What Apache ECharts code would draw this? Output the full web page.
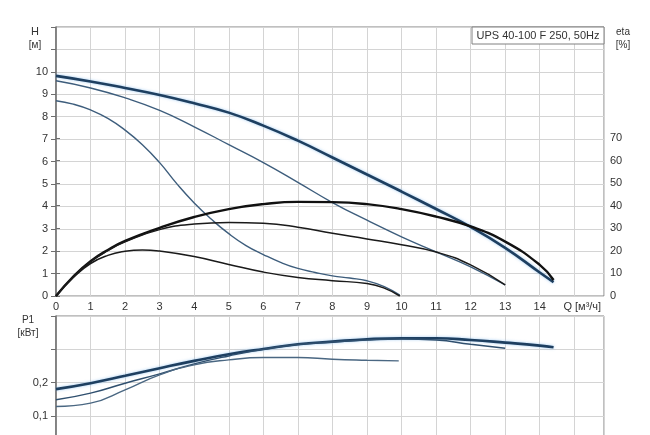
<!DOCTYPE html>
<html><head><meta charset="utf-8">
<script src="https://cdn.jsdelivr.net/npm/echarts@6/dist/echarts.min.js"></script>
<style>html,body{margin:0;padding:0;background:#fff}#c{width:650px;height:435px}</style>
</head><body><div id="c"></div>
<script>
// ---- data ----
const qA = [0,1,2,3,4,5,6,7,8,9,10,11,12,13,14,14.4];
const hA = [9.82,9.57,9.28,8.97,8.6,8.18,7.6,6.93,6.18,5.42,4.66,3.88,3.08,2.15,1.05,0.62];
const qB = [0,1,2,3,4,5,6,7,8,9,10,11,12,13];
const hB = [9.6,9.28,8.84,8.28,7.55,6.75,5.95,5.07,4.17,3.38,2.64,1.97,1.3,0.49];
const qC = [0,0.5,1,1.5,2,2.5,3,3.5,4,4.5,5,5.5,6,6.5,7,7.5,8,8.5,9,9.5,9.95];
const hC = [8.71,8.56,8.3,7.92,7.4,6.75,5.95,5.0,4.15,3.42,2.78,2.25,1.85,1.5,1.23,1.05,0.9,0.8,0.68,0.42,0.04];

const qEtaA = [0,0.5,1,1.5,2,3,4,5,6,7,8,9,10,11,12,13,14,14.4];
const etaA = [0,8.6,15.4,20.4,24.4,30.2,35,38.5,40.7,41.7,41.6,40.7,38.5,35.2,30.8,24.1,13.8,7.1];
const qEtaB = [0,0.5,1,1.5,2,3,4,5,6,7,8,9,10,11,12,13];
const etaB = [0,8.5,15.2,20.1,24,29.4,31.9,32.6,32.2,30.5,27.8,25.3,22.7,19.5,13.8,4.9];
const qEtaC = [0,0.5,1,1.5,2,2.5,3,4,5,6,7,8,9,9.5,9.95];
const etaC = [0,8.2,14.4,18,19.8,20.4,19.9,17.5,14,10.6,8.2,6.8,5.5,3.5,0];

const qPA = [0,1,2,3,4,5,6,7,8,9,10,11,12,13,14,14.4];
const pA = [0.18,0.198,0.22,0.243,0.265,0.285,0.301,0.315,0.323,0.33,0.333,0.333,0.328,0.32,0.311,0.306];
const qPB = [0,1,2,3,4,5,6,7,8,9,10,11,12,13];
const pB = [0.148,0.168,0.198,0.226,0.256,0.28,0.3,0.314,0.322,0.328,0.331,0.328,0.315,0.303];
const qPC = [0,1,2,3,4,5,6,7,8,9,9.92];
const pC = [0.128,0.138,0.178,0.223,0.253,0.268,0.275,0.275,0.27,0.267,0.265];

const xTickLabels = ['0','1','2','3','4','5','6','7','8','9','10','11','12','13','14','Q [м³/ч]'];
const hTickMax = 10;
const etaTickMax = 70;
const pTickLabels = {'0.1':'0,1','0.2':'0,2'};
const titleText = 'UPS 40-100 F 250, 50Hz';

// ---- chart ----
const zip = (q, v) => q.map((x, i) => [x, v[i]]);
const FONT = 'Liberation Sans, Arial, sans-serif';
const TXT = '#333';
const GRIDC = '#d4d4d4';
const FRAME = '#808080';
const L = 56, W = 548;
const XMAX = 15.86;

const chart = echarts.init(document.getElementById('c'), null, {renderer: 'canvas'});

function xAxisBase(gi, showLabels) {
  return {
    type: 'value', gridIndex: gi, min: 0, max: XMAX, interval: 1,
    axisLine: {show: false}, axisTick: {show: false},
    splitLine: {show: true, lineStyle: {color: GRIDC, width: 1}},
    axisLabel: {
      show: showLabels, color: TXT, fontFamily: FONT, fontSize: 11, margin: 5,
      showMaxLabel: false,
      formatter: v => {
        if (!Number.isInteger(v) || v >= xTickLabels.length) return '';
        return v === xTickLabels.length - 1 ? '{q|' + xTickLabels[v] + '}' : xTickLabels[v];
      },
      rich: {q: {color: TXT, fontFamily: FONT, fontSize: 11, padding: [0, 0, 0, 16]}}
    }
  };
}
function line(xi, yi, q, v, color, width, glow) {
  const ls = {color: color, width: width};
  if (glow) { ls.shadowColor = 'rgba(120,180,235,0.7)'; ls.shadowBlur = 3; }
  return {type: 'line', xAxisIndex: xi, yAxisIndex: yi, data: zip(q, v),
    smooth: 0.5, symbol: 'none', clip: false, lineStyle: ls};
}

const option = {
  animation: false,
  backgroundColor: '#fff',
  grid: [
    {left: L, top: 27, width: W, height: 269, show: true, borderColor: FRAME, borderWidth: 1, outerBoundsMode: 'none', containLabel: false},
    {left: L, top: 316, width: W, height: 133, show: true, borderColor: FRAME, borderWidth: 1, outerBoundsMode: 'none', containLabel: false},
    {left: L, top: 138, width: W, height: 158, show: false, outerBoundsMode: 'none', containLabel: false}
  ],
  xAxis: [
    xAxisBase(0, true),
    xAxisBase(1, false),
    Object.assign(xAxisBase(2, false), {splitLine: {show: false}})
  ],
  yAxis: [
    {
      type: 'value', gridIndex: 0, min: 0, max: 12, interval: 1,
      axisLine: {show: true, lineStyle: {color: '#6e6e6e', width: 1.5}},
      axisTick: {show: true, length: 5, lineStyle: {color: '#6e6e6e'}},
      splitLine: {show: true, lineStyle: {color: GRIDC, width: 1}},
      axisLabel: {color: TXT, fontFamily: FONT, fontSize: 11, margin: 8,
        formatter: v => v <= hTickMax ? String(v) : ''}
    },
    {
      type: 'value', gridIndex: 1, min: 0, max: 0.4, interval: 0.1,
      axisLine: {show: true, lineStyle: {color: '#6e6e6e', width: 1.5}},
      axisTick: {show: true, length: 5, lineStyle: {color: '#6e6e6e'}},
      splitLine: {show: true, lineStyle: {color: GRIDC, width: 1}},
      axisLabel: {color: TXT, fontFamily: FONT, fontSize: 11, margin: 8,
        formatter: v => pTickLabels[(Math.round(v * 10) / 10).toString()] || ''}
    },
    {
      type: 'value', gridIndex: 2, position: 'right', min: 0, max: etaTickMax, interval: 10,
      axisLine: {show: false},
      axisTick: {show: true, length: 4, inside: false, lineStyle: {color: '#6e6e6e'}},
      splitLine: {show: false},
      axisLabel: {color: TXT, fontFamily: FONT, fontSize: 11, margin: 6}
    }
  ],
  graphic: [
    {type: 'rect', shape: {x: 472, y: 27, width: 132, height: 17},
      style: {fill: '#fff', stroke: FRAME, lineWidth: 1}, z: 100},
    {type: 'text', x: 538, y: 36, z: 101,
      style: {text: titleText, fill: TXT, font: '11px ' + FONT, align: 'center', verticalAlign: 'middle'}},
    {type: 'text', x: 35, y: 32, style: {text: 'H', fill: TXT, font: '11px ' + FONT, align: 'center', verticalAlign: 'middle'}},
    {type: 'text', x: 35, y: 45, style: {text: '[м]', fill: TXT, font: '10px ' + FONT, align: 'center', verticalAlign: 'middle'}},
    {type: 'text', x: 623, y: 32, style: {text: 'eta', fill: TXT, font: '10px ' + FONT, align: 'center', verticalAlign: 'middle'}},
    {type: 'text', x: 623, y: 45, style: {text: '[%]', fill: TXT, font: '10px ' + FONT, align: 'center', verticalAlign: 'middle'}},
    {type: 'text', x: 28, y: 320, style: {text: 'P1', fill: TXT, font: '10px ' + FONT, align: 'center', verticalAlign: 'middle'}},
    {type: 'text', x: 28, y: 333, style: {text: '[кВт]', fill: TXT, font: '10px ' + FONT, align: 'center', verticalAlign: 'middle'}}
  ],
  series: [
    line(0, 0, qA, hA, '#1e3f60', 2.6, true),
    line(0, 0, qB, hB, '#3d5d7c', 1.4, false),
    line(0, 0, qC, hC, '#3d5d7c', 1.4, false),
    line(2, 2, qEtaA, etaA, '#111', 2.4, false),
    line(2, 2, qEtaB, etaB, '#1a1a1a', 1.5, false),
    line(2, 2, qEtaC, etaC, '#1a1a1a', 1.5, false),
    line(1, 1, qPA, pA, '#1e3f60', 2.6, true),
    line(1, 1, qPB, pB, '#2f4f6e', 1.5, false),
    line(1, 1, qPC, pC, '#4a6782', 1.4, false)
  ]
};
chart.setOption(option);
</script>
</body></html>
